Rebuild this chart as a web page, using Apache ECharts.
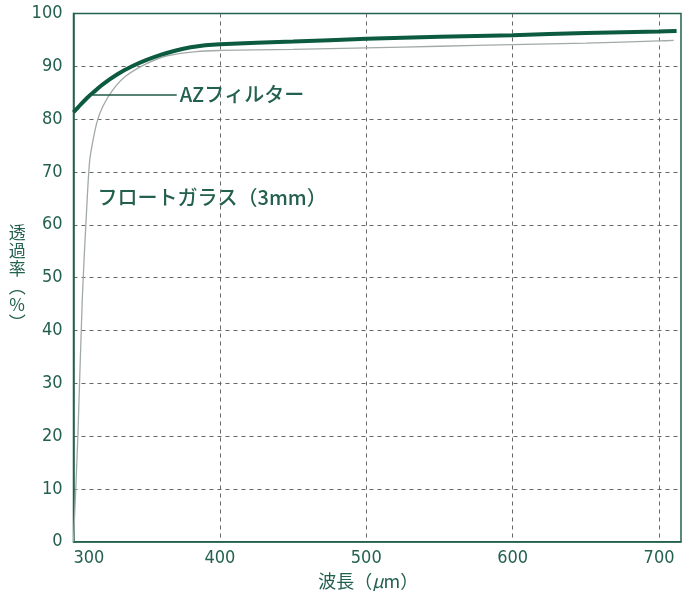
<!DOCTYPE html>
<html>
<head>
<meta charset="utf-8">
<script src="https://cdn.jsdelivr.net/npm/echarts@6/dist/echarts.min.js"></script>
<style>
html,body{margin:0;padding:0;background:#fff;}
#chart{width:686px;height:591px;}
</style>
</head>
<body>
<div id="chart"></div>
<script>
// Wavelength (x) and transmittance (%)
var azWave   = [300, 305, 310, 315, 320, 330, 340, 350, 360, 370, 380, 390, 400, 450, 500, 550, 600, 650, 700, 712];
var azValue  = [81.3, 82.8, 84.2, 85.4, 86.6, 88.5, 90.0, 91.2, 92.2, 93.0, 93.6, 94.0, 94.2, 94.7, 95.2, 95.6, 95.9, 96.3, 96.6, 96.7];
var glassWave  = [300, 303, 306, 309, 311, 313, 316, 320, 327, 336, 350, 364, 384, 400, 450, 500, 550, 600, 650, 700, 710];
var glassValue = [0, 20, 46, 63, 72, 75.5, 79.4, 82.4, 85.6, 88.2, 90.5, 92.0, 92.8, 93.0, 93.2, 93.5, 93.8, 94.1, 94.4, 94.8, 94.9];
var xTicks = [300, 400, 500, 600, 700];
var yTicks = [0, 10, 20, 30, 40, 50, 60, 70, 80, 90, 100];
var seriesNames = ['AZフィルター', 'フロートガラス（3mm）'];

var green = '#23604f';
var numFont = "'Liberation Sans Narrow', 'DejaVu Sans Condensed', 'Roboto', sans-serif";
var jpFont = "'Noto Sans CJK JP', sans-serif";

function pairs(xs, ys) { return xs.map(function (x, i) { return [x, ys[i]]; }); }

var chart = echarts.init(document.getElementById('chart'), null, {renderer: 'canvas'});
chart.setOption({
  backgroundColor: '#ffffff',
  animation: false,
  grid: {left: 73.5, right: 5, top: 13.5, bottom: 49.3, outerBoundsMode: 'none', containLabel: false,
    show: true, borderColor: green, borderWidth: 1.5, backgroundColor: 'transparent'},
  xAxis: {
    type: 'value', min: xTicks[0], max: 715, interval: 100,
    axisLine: {show: true, lineStyle: {color: green, width: 1.5}},
    axisTick: {show: false},
    axisLabel: {
      color: green, fontSize: 18, fontFamily: numFont, margin: 8,
      showMaxLabel: false, alignMinLabel: 'left',
      formatter: function (v) { return xTicks.indexOf(v) >= 0 ? String(v) : ''; }
    },
    splitLine: {show: true, showMinLine: false, showMaxLine: false, lineStyle: {color: '#666666', type: [4, 4], width: 1}},
    name: '{a|波長（}{b|μ}{a|m）}', nameLocation: 'middle', nameGap: 27,
    nameTextStyle: {padding: [0, 18, 0, 0], rich: {
      a: {fontSize: 18, color: green, fontFamily: jpFont},
      b: {fontSize: 18, color: green, fontFamily: jpFont, fontStyle: 'italic'}
    }}
  },
  yAxis: {
    type: 'value', min: yTicks[0], max: yTicks[yTicks.length - 1], interval: 10,
    axisLine: {show: true, lineStyle: {color: green, width: 1.5}},
    axisTick: {show: false},
    axisLabel: {color: green, fontSize: 18, fontFamily: numFont, margin: 11},
    splitLine: {show: true, showMinLine: false, showMaxLine: false, lineStyle: {color: '#666666', type: [4, 4], width: 1}},
    name: '透\n過\n率\n︵\n%\n︶', nameLocation: 'middle', nameRotate: 0, nameGap: 42,
    nameTextStyle: {color: green, fontSize: 17, fontFamily: jpFont, lineHeight: 18, align: 'center', padding: [8, 0, 0, 0]}
  },
  series: [
    {
      name: seriesNames[1], type: 'line', data: pairs(glassWave, glassValue),
      smooth: 0.3, showSymbol: false, z: 2,
      lineStyle: {color: '#a2aaa6', width: 1.3},
      markPoint: {
        symbol: 'circle', symbolSize: 0, silent: true,
        label: {show: true, position: 'right', distance: 0, formatter: seriesNames[1],
          color: green, fontSize: 20, fontWeight: 500, fontFamily: jpFont},
        data: [{coord: [316.4, 65.1]}]
      }
    },
    {
      name: seriesNames[0], type: 'line', data: pairs(azWave, azValue),
      smooth: 0.3, showSymbol: false, z: 3,
      lineStyle: {color: '#0c5a3f', width: 4},
      markLine: {
        symbol: 'none', silent: true,
        lineStyle: {color: '#1f5a48', width: 1.5, type: 'solid'},
        label: {show: true, position: 'end', distance: 3, formatter: seriesNames[0],
          color: green, fontSize: 20, fontWeight: 500, fontFamily: jpFont},
        data: [[{coord: [313, 84.7]}, {coord: [370.5, 84.7]}]]
      }
    }
  ]
});
</script>
</body>
</html>
